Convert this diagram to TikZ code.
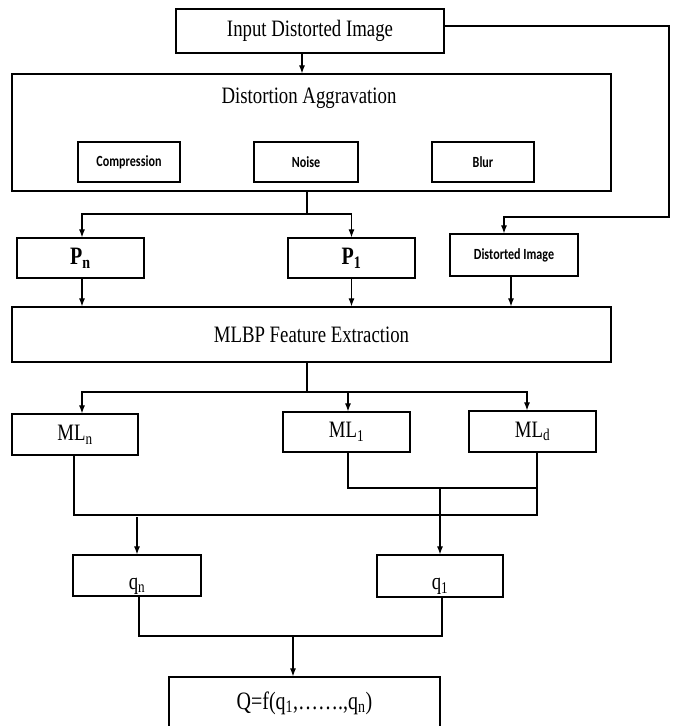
\documentclass[tikz,border=0pt]{standalone}
\usepackage{fontspec}
\setmainfont[FakeStretch=0.8]{Liberation Serif}
\newfontfamily\smallsans[FakeStretch=0.78]{Carlito}
\usetikzlibrary{arrows.meta}

\begin{document}
\begin{tikzpicture}[x=1pt,y=-1pt]
  \tikzstyle{box} =[draw, rectangle, line width=1.2pt, inner sep=0pt, align=center, font=\fontsize{23.5}{26}\selectfont]
  \tikzstyle{sbox}=[box, font=\smallsans\bfseries\fontsize{15.5}{17}\selectfont]
  \tikzstyle{wire}=[line width=1.1pt]
  \tikzstyle{arr} =[wire, -{Latex[length=8pt,width=6pt]}]
  \useasboundingbox (0,0) rectangle (673,726);
  \node[box, minimum width=268pt, minimum height=44pt] (inp) at (310,31) {Input Distorted Image};
  \node[box, minimum width=599pt, minimum height=117pt] (agg) at (311.5,132.5) {};
  \node[font=\fontsize{23.5}{26}\selectfont] (aggtitle) at (309,98) {Distortion Aggravation};
  \node[sbox, minimum width=102pt, minimum height=40pt] (comp)  at (129,162) {Compression};
  \node[sbox, minimum width=104pt, minimum height=40pt] (noise) at (306,162) {Noise};
  \node[sbox, minimum width=102pt, minimum height=40pt] (blur)  at (483,162) {Blur};
  \node[box, minimum width=127pt, minimum height=40pt, font=\bfseries\fontsize{25}{27}\selectfont] (pn)   at (80.5,258)  {P\textsubscript{n}};
  \node[box, minimum width=127pt, minimum height=40pt, font=\bfseries\fontsize{25}{27}\selectfont] (pone) at (351.5,258) {P\textsubscript{1}};
  \node[sbox, minimum width=128pt, minimum height=42pt] (dimg) at (514,255) {Distorted Image};
  \node[box, minimum width=599pt, minimum height=55pt] (mlbp) at (311.5,334.5) {MLBP Feature Extraction};
  \node[box, minimum width=126pt, minimum height=41pt] (mln)   at (75,434.5)  {ML\textsubscript{n}};
  \node[box, minimum width=127pt, minimum height=40pt] (mlone) at (346.5,432) {ML\textsubscript{1}};
  \node[box, minimum width=127pt, minimum height=41pt] (mld)   at (532.5,431.5) {ML\textsubscript{d}};
  \node[box, minimum width=128pt, minimum height=41pt, text height=27pt, text depth=0pt] (qn)   at (137,575.5) {q\textsubscript{n}};
  \node[box, minimum width=126pt, minimum height=42pt, text height=27pt, text depth=0pt] (qone) at (440,576)   {q\textsubscript{1}};
  \node[box, minimum width=271pt, minimum height=52pt, font=\fontsize{25}{27}\selectfont] (qf) at (304.5,703) {Q=f(q\textsubscript{1},…….,q\textsubscript{n})};
  \coordinate (rt) at (669,217);
  \coordinate (aggsplit) at (307,214);
  \coordinate (mlsplit) at (307,392);
  \coordinate (jhi) at (537,488);
  \coordinate (jlo) at (537,515);
  \coordinate (qmid) at (293,636);
  \draw[arr] ([xshift=-8pt]inp.south) -- ([xshift=-8pt]inp.south |- agg.north);
  \draw[arr] ([yshift=5pt]inp.east) -| (rt) -| ([xshift=-10pt]dimg.north);
  \draw[wire] (agg.south -| aggsplit) -- (aggsplit);
  \draw[arr] (aggsplit) -| ([xshift=1.5pt]pn.north);
  \draw[arr] (aggsplit) -| (pone.north);
  \draw[arr] ([xshift=1.5pt]pn.south) -- ([xshift=1.5pt]pn.south |- mlbp.north);
  \draw[arr] (pone.south) -- (pone.south |- mlbp.north);
  \draw[arr] ([xshift=-3pt]dimg.south) -- ([xshift=-3pt]dimg.south |- mlbp.north);
  \draw[wire] (mlbp.south -| mlsplit) -- (mlsplit);
  \draw[arr] (mlsplit) -| ([xshift=7pt]mln.north);
  \draw[arr] (mlsplit) -| ([xshift=1.5pt]mlone.north);
  \draw[arr] (mlsplit) -| ([xshift=-5.5pt]mld.north);
  \draw[wire] ([xshift=-1pt]mln.south) |- (jlo) -- (mld.south -| jlo);
  \draw[wire] ([xshift=1.5pt]mlone.south) |- (jhi);
  \draw[arr] (qone.north |- jhi) -- (qone.north);
  \draw[arr] ([yshift=-2pt]qn.north |- jlo) -- (qn.north);
  \draw[wire] ([xshift=2pt]qn.south) |- (qmid) -| ([xshift=2pt]qone.south);
  \draw[arr] (qmid) -- (qmid |- qf.north);
\end{tikzpicture}
\end{document}
